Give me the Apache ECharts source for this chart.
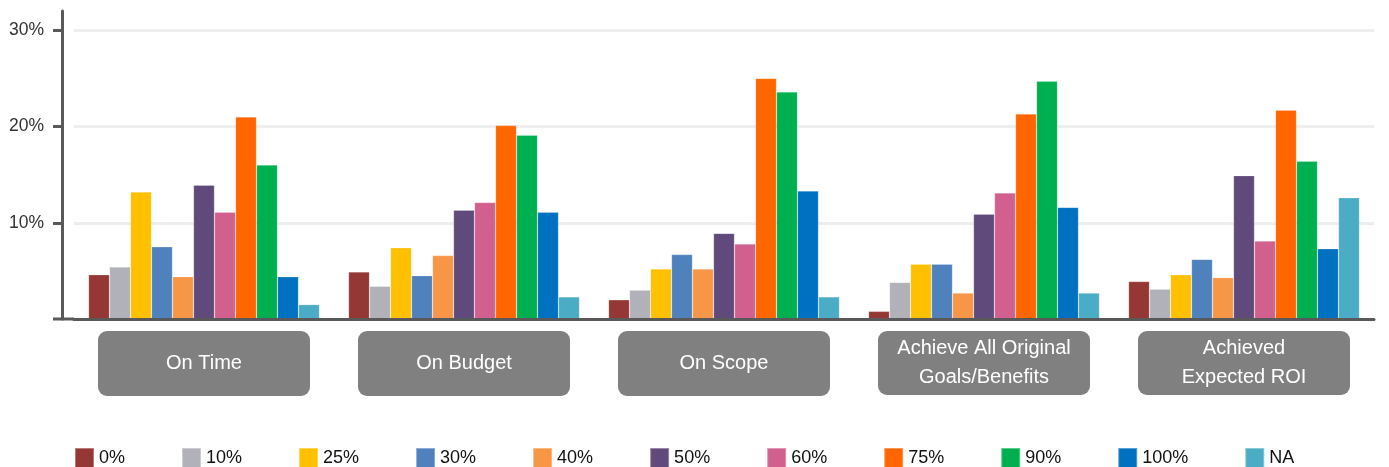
<!DOCTYPE html>
<html>
<head>
<meta charset="utf-8">
<script src="https://cdn.jsdelivr.net/npm/echarts@6/dist/echarts.min.js"></script>
<style>
  html, body { margin: 0; padding: 0; background: #fff; }
  #chart { width: 1389px; height: 467px; }
</style>
</head>
<body>
<div id="chart"></div>
<script>
// data (percent of projects)
const categories = ['On Time', 'On Budget', 'On Scope', 'Achieve All Original\nGoals/Benefits', 'Achieved\nExpected ROI'];
const seriesNames = ['0%', '10%', '25%', '30%', '40%', '50%', '60%', '75%', '90%', '100%', 'NA'];
const seriesColors = ['#953735', '#b1b1b9', '#ffc000', '#4f81bd', '#f79646', '#604a7b', '#d2608f', '#ff6600', '#00b050', '#0070c0', '#4bacc6'];
// one array per category, in the order of seriesNames
const onTime      = [4.6, 5.4, 13.2, 7.5, 4.4, 13.9, 11.1, 21.0, 16.0, 4.4, 1.5];
const onBudget    = [4.9, 3.4, 7.4, 4.5, 6.6, 11.3, 12.1, 20.1, 19.1, 11.1, 2.3];
const onScope     = [2.0, 3.0, 5.2, 6.7, 5.2, 8.9, 7.8, 25.0, 23.6, 13.3, 2.3];
const allGoals    = [0.8, 3.8, 5.7, 5.7, 2.7, 10.9, 13.1, 21.3, 24.7, 11.6, 2.7];
const expectedRoi = [3.9, 3.1, 4.6, 6.2, 4.3, 14.9, 8.1, 21.7, 16.4, 7.3, 12.6];
const yTicks = [10, 20, 30];

const groups = [onTime, onBudget, onScope, allGoals, expectedRoi];
const GRID_LEFT = 74;
const FONT = "'Liberation Sans', Arial, sans-serif";

let chart = echarts.init(document.getElementById('chart'));

const series = seriesNames.map(function (name, i) {
  let s = {
    name: name,
    type: 'bar',
    barWidth: 21,
    barGap: '0%',
    itemStyle: { color: seriesColors[i], borderColor: 'rgba(255,255,255,0.35)', borderWidth: 0.6 },
    data: groups.map(function (g) { return g[i]; })
  };
  if (i === 0) {
    // light horizontal gridlines at the labelled ticks
    s.markLine = {
      silent: true,
      z: 1,
      symbol: 'none',
      label: { show: false },
      lineStyle: { color: '#eeeeee', width: 3, type: 'solid' },
      data: yTicks.map(function (v) { return { yAxis: v }; })
    };
  }
  return s;
});

chart.setOption({
  animation: false,
  textStyle: { fontFamily: FONT },
  grid: { left: GRID_LEFT, right: 15, top: 11, bottom: 148 },
  legend: {
    left: 74,
    top: 447,
    padding: 0,
    itemWidth: 19,
    itemHeight: 20,
    itemGap: 56,
    icon: 'rect',
    textStyle: { fontSize: 18, color: '#111', fontFamily: FONT },
    data: seriesNames
  },
  xAxis: {
    type: 'category',
    data: categories,
    z: 5,
    axisLine: { lineStyle: { color: '#595959', width: 3 } },
    axisTick: { show: false },
    axisLabel: {
      interval: 0,
      margin: 12,
      width: 212,
      padding: [3, 0],
      align: 'center',
      backgroundColor: '#808080',
      borderRadius: 9,
      formatter: function (v) {
        let lines = v.split('\n');
        if (lines.length === 1) {
          return '{s| }\n{t|' + v + '}\n{s| }';
        }
        return lines.map(function (l) { return '{t|' + l + '}'; }).join('\n');
      },
      rich: {
        t: {
          fontFamily: FONT,
          fontSize: 20,
          lineHeight: 29,
          color: '#fff',
          align: 'center',
          width: 212
        },
        s: { fontSize: 10, lineHeight: 15, align: 'center', width: 212 }
      }
    }
  },
  yAxis: {
    type: 'value',
    min: 0,
    max: 32,
    interval: 10,
    offset: 12,
    axisLine: { show: true, lineStyle: { color: '#595959', width: 3 } },
    axisTick: { show: true, length: 9, customValues: yTicks, lineStyle: { color: '#595959', width: 3 } },
    axisLabel: {
      customValues: yTicks,
      margin: 18,
      fontSize: 17.5,
      color: '#333',
      formatter: '{value}%'
    },
    splitLine: { show: false }
  },
  series: series
});

// the x axis line runs on left past the y axis, as in the picture
let y0 = chart.convertToPixel({ yAxisIndex: 0 }, 0);
chart.setOption({
  graphic: [{
    type: 'line',
    z: 10,
    shape: { x1: GRID_LEFT - 21, y1: y0, x2: GRID_LEFT, y2: y0 },
    style: { stroke: '#595959', lineWidth: 3 }
  }]
});
</script>
</body>
</html>
